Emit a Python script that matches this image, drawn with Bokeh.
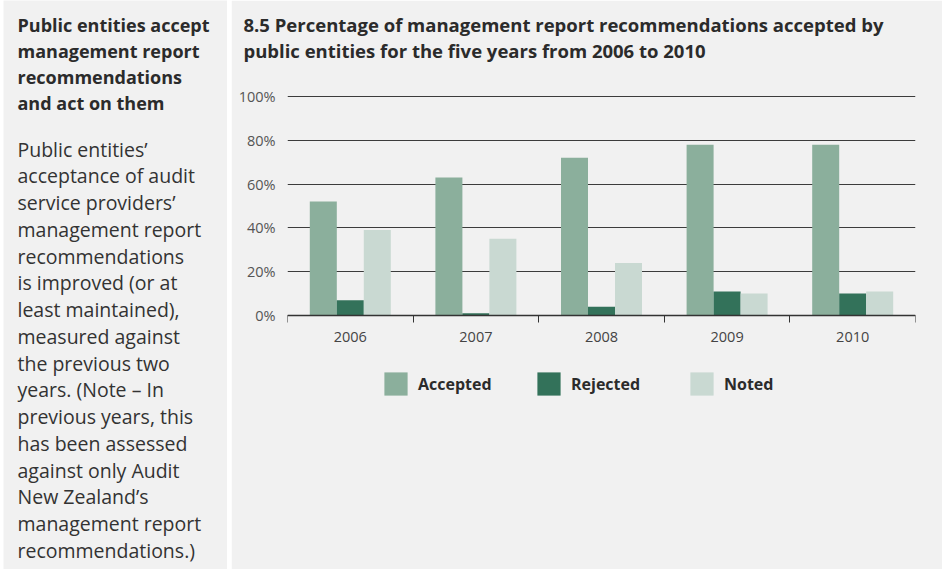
from bokeh.plotting import figure
from bokeh.models import (Range1d, FixedTicker, CustomJSTickFormatter, Legend, LegendItem,
                          ColumnDataSource, Title, Spacer)
from bokeh.layouts import row, column
from bokeh.core.properties import value
from bokeh.embed import file_html
from bokeh.resources import INLINE

# ---------------- data ----------------
years = ["2006", "2007", "2008", "2009", "2010"]
accepted = [52, 63, 72, 78, 78]
rejected = [7, 1, 4, 11, 10]
noted = [39, 35, 24, 10, 11]
y_ticks = [0, 20, 40, 60, 80, 100]
series_names = ["Accepted", "Rejected", "Noted"]

side_heading = ["Public entities accept", "management report",
                "recommendations", "and act on them"]
side_body = ["Public entities\u2019", "acceptance of audit", "service providers\u2019",
             "management report", "recommendations", "is improved (or at",
             "least maintained),", "measured against", "the previous two",
             "years. (Note \u2013 In", "previous years, this", "has been assessed",
             "against only Audit", "New Zealand\u2019s", "management report",
             "recommendations.)"]
chart_title = ["8.5 Percentage of management report recommendations accepted by",
               "public entities for the five years from 2006 to 2010"]

# ---------------- style ----------------
BG = "#f1f1f1"
C_ACC = "#8baf9c"
C_REJ = "#33725a"
C_NOT = "#c9d9d2"
FONT = "Open Sans"
TXT = "#2b2b2b"

H = 569
# ---------------- left text panel ----------------
LX = 3
LW = 224
left = figure(width=LW, height=H, output_backend="svg", toolbar_location=None,
              x_range=Range1d(0, LW), y_range=Range1d(H, 0), min_border=0)
left.axis.visible = False
left.grid.visible = False
left.outline_line_color = None
left.background_fill_color = BG
left.border_fill_color = BG

hy = [24 + 26.3 * i for i in range(len(side_heading))]
left.text(x=[17 - LX] * len(side_heading), y=hy, text=side_heading,
          text_font=value(FONT), text_font_style="bold", text_font_size="18px",
          text_color=TXT, text_baseline="alphabetic")
by = [148.5 + 26.75 * i for i in range(len(side_body))]
left.text(x=[17 - LX] * len(side_body), y=by, text=side_body,
          text_font=value(FONT), text_font_size="19.5px",
          text_color="#333333", text_baseline="alphabetic")

# ---------------- chart ----------------
RW = 711
TOP, BOT = 62, 60          # min borders (px)
F_TOP, F_BOT = TOP, H - BOT  # frame top / bottom in px
Y100, Y0 = 96, 315           # where 100% and 0% sit
ppu = (Y0 - Y100) / 100.0
y_end = 100 + (Y100 - F_TOP) / ppu
y_start = -(F_BOT - Y0) / ppu

p = figure(width=RW, height=H, output_backend="svg", toolbar_location=None,
           x_range=Range1d(0, len(years)), y_range=Range1d(y_start, y_end),
           min_border_left=56, min_border_right=27, min_border_top=TOP,
           min_border_bottom=BOT)
p.background_fill_color = BG
p.border_fill_color = BG
p.outline_line_color = BG
p.outline_line_width = 2

for line, so in ((chart_title[1], 0), (chart_title[0], -2)):
    p.add_layout(Title(text=line, align="left", offset=-44, standoff=so,
                       text_font=FONT, text_font_style="bold", text_font_size="18.5px",
                       text_color=TXT), "above")

w = 0.215
xs = [i + 0.5 for i in range(len(years))]
src = ColumnDataSource(dict(
    xa=[x - w for x in xs], xr=xs, xn=[x + w for x in xs],
    acc=accepted, rej=rejected, not_=noted))
ra = p.vbar(x="xa", top="acc", width=w, source=src, fill_color=C_ACC, line_color=None)
rr = p.vbar(x="xr", top="rej", width=w, source=src, fill_color=C_REJ, line_color=None)
rn = p.vbar(x="xn", top="not_", width=w, source=src, fill_color=C_NOT, line_color=None)

# x axis at 0: labels at category centres, ticks at boundaries
xa = p.xaxis[0]
xa.fixed_location = 0
xa.ticker = FixedTicker(ticks=xs, minor_ticks=list(range(len(years) + 1)))
xa.formatter = CustomJSTickFormatter(args=dict(labels=years),
                                     code="return labels[Math.floor(tick)];")
xa.major_tick_line_color = None
xa.major_tick_out = 0
xa.major_tick_in = 0
xa.minor_tick_line_color = "#333333"
xa.minor_tick_out = 7
xa.minor_tick_in = 0
xa.axis_line_color = "#333333"
xa.axis_line_width = 1.3
xa.major_label_standoff = 9
xa.major_label_text_font = FONT
xa.major_label_text_font_size = "14.5px"
xa.major_label_text_color = "#444444"

ya = p.yaxis[0]
ya.ticker = FixedTicker(ticks=y_ticks, minor_ticks=[])
ya.formatter = CustomJSTickFormatter(code="return tick.toFixed(0) + '%';")
ya.axis_line_color = None
ya.major_tick_line_color = None
ya.minor_tick_line_color = None
ya.major_label_standoff = 6
ya.major_label_text_font = FONT
ya.major_label_text_font_size = "14.5px"
ya.major_label_text_color = "#555555"

p.xgrid.visible = False
p.ygrid.ticker = FixedTicker(ticks=y_ticks)
p.ygrid.grid_line_color = "#3c3c3c"
p.ygrid.grid_line_width = 1

GW = 29   # legend glyph box (bar swatch is inset 10% per side)
legend = Legend(items=[LegendItem(label=series_names[0], renderers=[ra]),
                       LegendItem(label=series_names[1], renderers=[rr]),
                       LegendItem(label=series_names[2], renderers=[rn])],
                orientation="horizontal", location=(94, F_BOT - 398),
                glyph_width=GW, glyph_height=GW, label_height=29,
                label_width=116, label_standoff=8, spacing=0, padding=0,
                margin=0, border_line_color=None, background_fill_alpha=0,
                label_text_font=FONT, label_text_font_style="bold",
                label_text_font_size="16px", label_text_color=TXT)
p.add_layout(legend, "center")

layout = row(Spacer(width=LX, height=H), column(left), column(p), spacing=0)
layout.children[2].margin = (0, 0, 0, 4)

open("out.html", "w").write(file_html(layout, INLINE))
